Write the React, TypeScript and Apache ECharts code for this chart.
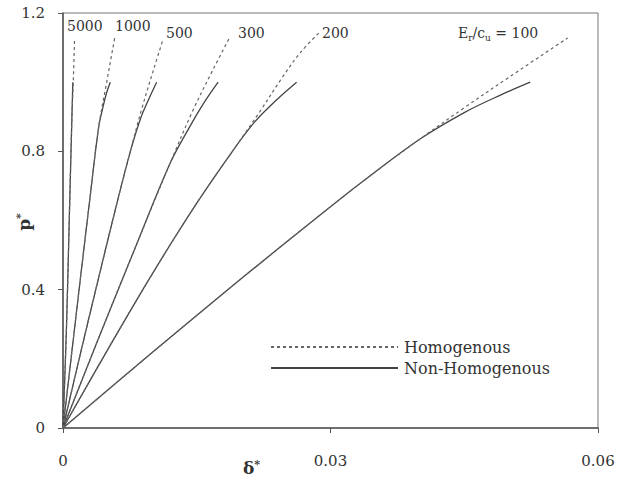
import { useEffect, useRef } from 'react';
import * as echarts from 'echarts';

type Pt = [number, number];

// Normalised load p* versus settlement δ* for each stiffness ratio Er/cu
const ratios = ['5000', '1000', '500', '300', '200', '100'];

const hom5000: Pt[] = [[0, 0], [0.0004, 0.3], [0.0007, 0.6], [0.001, 0.9], [0.00115, 1.0], [0.0013, 1.128]];
const non5000: Pt[] = [[0, 0], [0.0004, 0.3], [0.0007, 0.6], [0.001, 0.9], [0.0011, 1.0]];

const hom1000: Pt[] = [[0, 0], [0.001, 0.222], [0.002, 0.443], [0.003, 0.66], [0.004, 0.87], [0.0049, 1.0], [0.0058, 1.128]];
const non1000: Pt[] = [[0, 0], [0.001, 0.222], [0.002, 0.443], [0.003, 0.66], [0.004, 0.87], [0.0045, 0.93], [0.0049, 0.97], [0.0053, 1.0]];

const hom500: Pt[] = [[0, 0], [0.002, 0.22], [0.004, 0.435], [0.006, 0.645], [0.0075, 0.795], [0.0088, 0.92], [0.0102, 1.04], [0.0112, 1.122]];
const non500: Pt[] = [[0, 0], [0.002, 0.22], [0.004, 0.435], [0.006, 0.645], [0.0075, 0.795], [0.0087, 0.895], [0.0096, 0.95], [0.0105, 1.0]];

const hom300: Pt[] = [[0, 0], [0.004, 0.26], [0.008, 0.515], [0.012, 0.765], [0.0146, 0.92], [0.0168, 1.035], [0.0187, 1.13]];
const non300: Pt[] = [[0, 0], [0.004, 0.26], [0.008, 0.515], [0.012, 0.765], [0.0143, 0.875], [0.0158, 0.94], [0.0174, 1.0]];

const hom200: Pt[] = [[0, 0], [0.005, 0.226], [0.01, 0.445], [0.015, 0.65], [0.019, 0.8], [0.022, 0.912], [0.0245, 1.01], [0.0266, 1.085], [0.0288, 1.145]];
const non200: Pt[] = [[0, 0], [0.005, 0.226], [0.01, 0.445], [0.015, 0.65], [0.019, 0.8], [0.0215, 0.885], [0.024, 0.95], [0.0262, 1.0]];

const hom100: Pt[] = [[0, 0], [0.01, 0.218], [0.02, 0.432], [0.03, 0.64], [0.035, 0.74], [0.04, 0.835], [0.045, 0.926], [0.05, 1.014], [0.0566, 1.128]];
const non100: Pt[] = [[0, 0], [0.01, 0.218], [0.02, 0.432], [0.03, 0.64], [0.035, 0.74], [0.04, 0.835], [0.045, 0.912], [0.049, 0.962], [0.0524, 1.0]];

const homogenous = [hom5000, hom1000, hom500, hom300, hom200, hom100];
const nonHomogenous = [non5000, non1000, non500, non300, non200, non100];

const xTicks = { min: 0, max: 0.06, interval: 0.03 };
const yTicks = { min: 0, max: 1.2, interval: 0.4 };

const FONT = 'DejaVu Serif';
const INK = '#333';

export default function App() {
  const ref = useRef<HTMLDivElement>(null);

  useEffect(() => {
    if (!ref.current) return;
    const chart = echarts.init(ref.current, null, { renderer: 'svg' });

    const series: any[] = [];
    nonHomogenous.forEach((data, i) => {
      series.push({
        name: 'Non-Homogenous',
        id: 'non-' + ratios[i],
        type: 'line',
        data,
        smooth: 0.35,
        symbol: 'none',
        lineStyle: { color: '#444', width: 1.3, type: 'solid' },
        itemStyle: { color: '#444' },
      });
    });
    homogenous.forEach((data, i) => {
      series.push({
        name: 'Homogenous',
        id: 'hom-' + ratios[i],
        type: 'line',
        data,
        smooth: 0.35,
        symbol: 'none',
        lineStyle: { color: '#666', width: 1.2, type: [3, 3] },
        itemStyle: { color: '#666' },
      });
    });

    const curveLabel = (text: string, x: number, y: number) => ({
      type: 'text',
      x,
      y,
      style: { text, fontFamily: FONT, fontSize: 14, fill: INK, verticalAlign: 'middle' },
    });

    chart.setOption({
      animation: false,
      backgroundColor: '#fff',
      grid: {
        left: 63,
        right: 28,
        top: 13,
        bottom: 52,
        show: true,
        borderColor: '#777',
        borderWidth: 1,
        containLabel: false,
        outerBoundsMode: 'none',
      },
      legend: {
        orient: 'vertical',
        left: 270,
        top: 339,
        padding: 0,
        itemWidth: 127,
        itemHeight: 12,
        itemGap: 5,
        data: ['Homogenous', 'Non-Homogenous'],
        itemStyle: { opacity: 0 },
        textStyle: { fontFamily: FONT, fontSize: 16, color: INK, padding: [0, 0, 0, 1] },
      },
      xAxis: {
        type: 'value',
        ...xTicks,
        axisLine: { show: true, lineStyle: { color: '#555', width: 1.5 } },
        axisTick: { show: true, inside: false, length: 5, lineStyle: { color: '#555' } },
        splitLine: { show: false },
        axisLabel: { fontFamily: FONT, fontSize: 15, color: INK, margin: 25 },
      },
      yAxis: {
        type: 'value',
        ...yTicks,
        axisLine: { show: true, lineStyle: { color: '#555', width: 1.5 } },
        axisTick: { show: true, inside: false, length: 5, lineStyle: { color: '#555' } },
        splitLine: { show: false },
        axisLabel: { fontFamily: FONT, fontSize: 15, color: INK, margin: 18 },
      },
      series,
      graphic: [
        curveLabel('5000', 67, 26),
        curveLabel('1000', 115, 26),
        curveLabel('500', 166, 33),
        curveLabel('300', 238, 33),
        curveLabel('200', 322, 33),
        {
          type: 'text',
          x: 458,
          y: 33,
          style: {
            text: '{a|E}{s|r}{a|/c}{s|u}{a| = 100}',
            verticalAlign: 'middle',
            fill: INK,
            rich: {
              a: { fontFamily: FONT, fontSize: 14, fill: INK, lineHeight: 18, verticalAlign: 'middle' },
              s: { fontFamily: FONT, fontSize: 9, fill: INK, lineHeight: 18, verticalAlign: 'bottom', padding: [6, 0, 0, 0] },
            },
          },
        },
        {
          type: 'text',
          x: 243,
          y: 468,
          style: {
            text: '{a|δ}{s|*}',
            verticalAlign: 'middle',
            rich: {
              a: { fontFamily: FONT, fontSize: 17, fontWeight: 'bold', fill: INK },
              s: { fontFamily: FONT, fontSize: 11, fontWeight: 'bold', fill: INK, padding: [0, 0, 8, 0] },
            },
          },
        },
        {
          type: 'text',
          x: 24,
          y: 222,
          rotation: Math.PI / 2,
          style: {
            text: '{a|p}{s|*}',
            align: 'center',
            verticalAlign: 'middle',
            rich: {
              a: { fontFamily: FONT, fontSize: 17, fontWeight: 'bold', fill: INK },
              s: { fontFamily: FONT, fontSize: 11, fontWeight: 'bold', fill: INK, padding: [0, 0, 8, 0] },
            },
          },
        },
      ],
    });

    return () => chart.dispose();
  }, []);

  return (
    <div
      ref={ref}
      style={{ position: 'absolute', left: 0, top: 0, width: 626, height: 480, background: '#fff' }}
    />
  );
}
